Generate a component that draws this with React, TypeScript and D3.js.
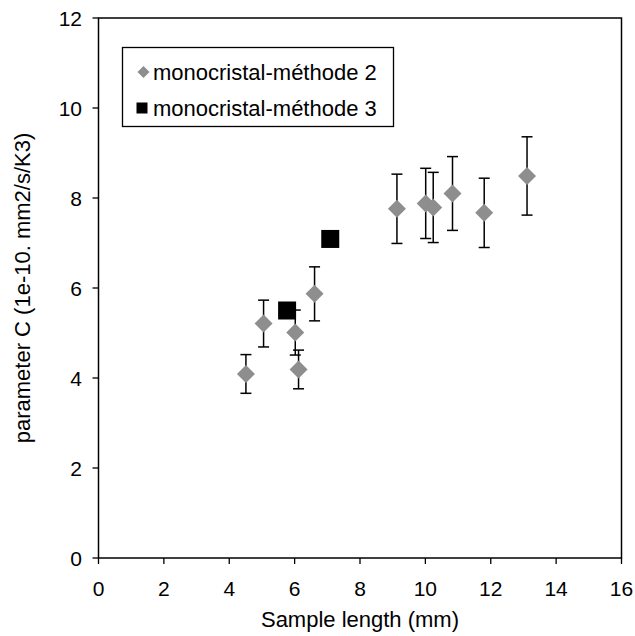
import React from "react";
import * as d3 from "d3";

const m2X = [4.51, 5.05, 6.02, 6.12, 6.61, 9.13, 10.01, 10.24, 10.83, 11.8, 13.11];
const m2Y = [4.09, 5.21, 5.01, 4.19, 5.87, 7.76, 7.88, 7.79, 8.1, 7.67, 8.49];
const m2Err = [0.43, 0.52, 0.5, 0.43, 0.6, 0.77, 0.78, 0.78, 0.82, 0.77, 0.87];
const m3X = [5.77, 7.09];
const m3Y = [5.5, 7.09];
const xTicks = [0, 2, 4, 6, 8, 10, 12, 14, 16];
const yTicks = [0, 2, 4, 6, 8, 10, 12];
const seriesNames = ["monocristal-méthode 2", "monocristal-méthode 3"];
const xTitle = "Sample length (mm)";
const yTitle = "parameter C (1e-10. mm2/s/K3)";

export default function App() {
  const W = 635, H = 636;
  const left = 98.5, right = 621.5, top = 18, bottom = 558;
  const x = d3.scaleLinear().domain([0, 16]).range([left, right]);
  const y = d3.scaleLinear().domain([0, 12]).range([bottom, top]);
  const font = "Liberation Sans, Arial, sans-serif";
  const gray = "#8e8e8e";
  const dSize = 9; // diamond half-diagonal
  const sq = 18;
  const cap = 5.5;
  return (
    <svg width={W} height={H} style={{ position: "absolute", left: 0, top: 0, background: "#fff" }} fontFamily={font}>
      <rect x={0} y={0} width={W} height={H} fill="#fff" />
      {/* frame */}
      <rect x={left} y={top} width={right - left} height={bottom - top} fill="none" stroke="#000" strokeWidth={1.5} />
      {/* y ticks */}
      {yTicks.map((t) => (
        <g key={"y" + t}>
          <line x1={left - 6} x2={left} y1={y(t)} y2={y(t)} stroke="#000" strokeWidth={1.3} />
          <text x={82} y={y(t) + 7.5} textAnchor="end" fontSize={21}>{t}</text>
        </g>
      ))}
      {xTicks.map((t) => (
        <g key={"x" + t}>
          <line x1={x(t)} x2={x(t)} y1={bottom} y2={bottom + 6} stroke="#000" strokeWidth={1.3} />
          <text x={x(t)} y={595.5} textAnchor="middle" fontSize={21}>{t}</text>
        </g>
      ))}
      <text x={(left + right) / 2} y={627} textAnchor="middle" fontSize={22}>{xTitle}</text>
      <text transform={`translate(30,${(top + bottom) / 2}) rotate(-90)`} textAnchor="middle" fontSize={22}>{yTitle}</text>
      {/* error bars */}
      {m2X.map((v, i) => (
        <g key={"e" + i} stroke="#000" strokeWidth={1.5}>
          <line x1={x(v)} x2={x(v)} y1={y(m2Y[i] - m2Err[i])} y2={y(m2Y[i] + m2Err[i])} />
          <line x1={x(v) - cap} x2={x(v) + cap} y1={y(m2Y[i] + m2Err[i])} y2={y(m2Y[i] + m2Err[i])} />
          <line x1={x(v) - cap} x2={x(v) + cap} y1={y(m2Y[i] - m2Err[i])} y2={y(m2Y[i] - m2Err[i])} />
        </g>
      ))}
      {m2X.map((v, i) => (
        <path key={"d" + i} d={`M${x(v)},${y(m2Y[i]) - dSize}L${x(v) + dSize},${y(m2Y[i])}L${x(v)},${y(m2Y[i]) + dSize}L${x(v) - dSize},${y(m2Y[i])}Z`} fill={gray} />
      ))}
      {m3X.map((v, i) => (
        <rect key={"s" + i} x={x(v) - sq / 2} y={y(m3Y[i]) - sq / 2} width={sq} height={sq} fill="#000" />
      ))}
      {/* legend */}
      <rect x={122.5} y={47.5} width={271} height={79} fill="#fff" stroke="#000" strokeWidth={1.3} />
      <path d={`M143.5,66L149.5,72L143.5,78L137.5,72Z`} fill={gray} />
      <text x={153} y={79.5} fontSize={22}>{seriesNames[0]}</text>
      <rect x={136.5} y={102.5} width={11} height={11} fill="#000" />
      <text x={153} y={116} fontSize={22}>{seriesNames[1]}</text>
    </svg>
  );
}
